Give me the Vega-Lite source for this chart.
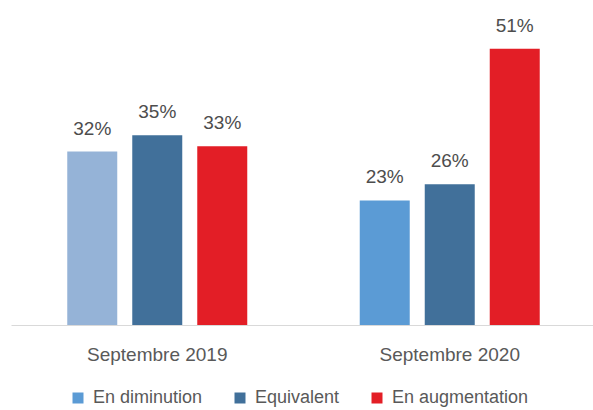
{
  "$schema": "https://vega.github.io/schema/vega-lite/v6.json",
  "autosize": "none",
  "padding": {"left": 11, "top": 27, "right": 0, "bottom": 85},
  "width": 585,
  "height": 298,
  "background": "white",
  "config": {"view": {"stroke": null}, "font": "Liberation Sans"},
  "data": {
    "values": [
      {"periode": "Septembre 2019", "serie": "En diminution", "valeur": 0.32},
      {"periode": "Septembre 2019", "serie": "Equivalent", "valeur": 0.35},
      {"periode": "Septembre 2019", "serie": "En augmentation", "valeur": 0.33},
      {"periode": "Septembre 2020", "serie": "En diminution", "valeur": 0.23},
      {"periode": "Septembre 2020", "serie": "Equivalent", "valeur": 0.26},
      {"periode": "Septembre 2020", "serie": "En augmentation", "valeur": 0.51}
    ]
  },
  "encoding": {
    "x": {
      "field": "periode",
      "type": "nominal",
      "sort": null,
      "scale": {"paddingInner": 0.3333, "paddingOuter": 0.1667},
      "axis": {
        "title": null,
        "labelAngle": 0,
        "ticks": false,
        "domainColor": "#D9D9D9",
        "domainWidth": 1,
        "labelFontSize": 19,
        "labelColor": "#595959",
        "labelPadding": 20
      }
    },
    "xOffset": {
      "field": "serie",
      "type": "nominal",
      "sort": ["En diminution", "Equivalent", "En augmentation"],
      "scale": {"paddingInner": 0.2308, "paddingOuter": 0.1154}
    },
    "y": {
      "field": "valeur",
      "type": "quantitative",
      "scale": {"domain": [0, 0.55], "nice": false},
      "axis": null
    }
  },
  "layer": [
    {
      "mark": {"type": "bar"},
      "encoding": {
        "color": {
          "condition": {
            "test": "datum.periode === 'Septembre 2019' && datum.serie === 'En diminution'",
            "value": "#95B3D7"
          },
          "field": "serie",
          "type": "nominal",
          "sort": ["En diminution", "Equivalent", "En augmentation"],
          "scale": {
            "domain": ["En diminution", "Equivalent", "En augmentation"],
            "range": ["#5B9BD5", "#41709A", "#E31E26"]
          },
          "legend": {
            "title": null,
            "orient": "none",
            "direction": "horizontal",
            "legendX": 58,
            "legendY": 362,
            "symbolType": "square",
            "symbolSize": 121,
            "symbolStrokeWidth": 0,
            "labelFontSize": 18,
            "labelColor": "#595959",
            "labelOffset": 6,
            "columnPadding": 28,
            "labelLimit": 300
          }
        }
      }
    },
    {
      "mark": {
        "type": "text",
        "baseline": "alphabetic",
        "dy": -17,
        "fontSize": 19,
        "color": "#4D4D4D"
      },
      "encoding": {
        "text": {"field": "valeur", "type": "quantitative", "format": ".0%"},
        "detail": {"field": "serie"}
      }
    }
  ]
}
